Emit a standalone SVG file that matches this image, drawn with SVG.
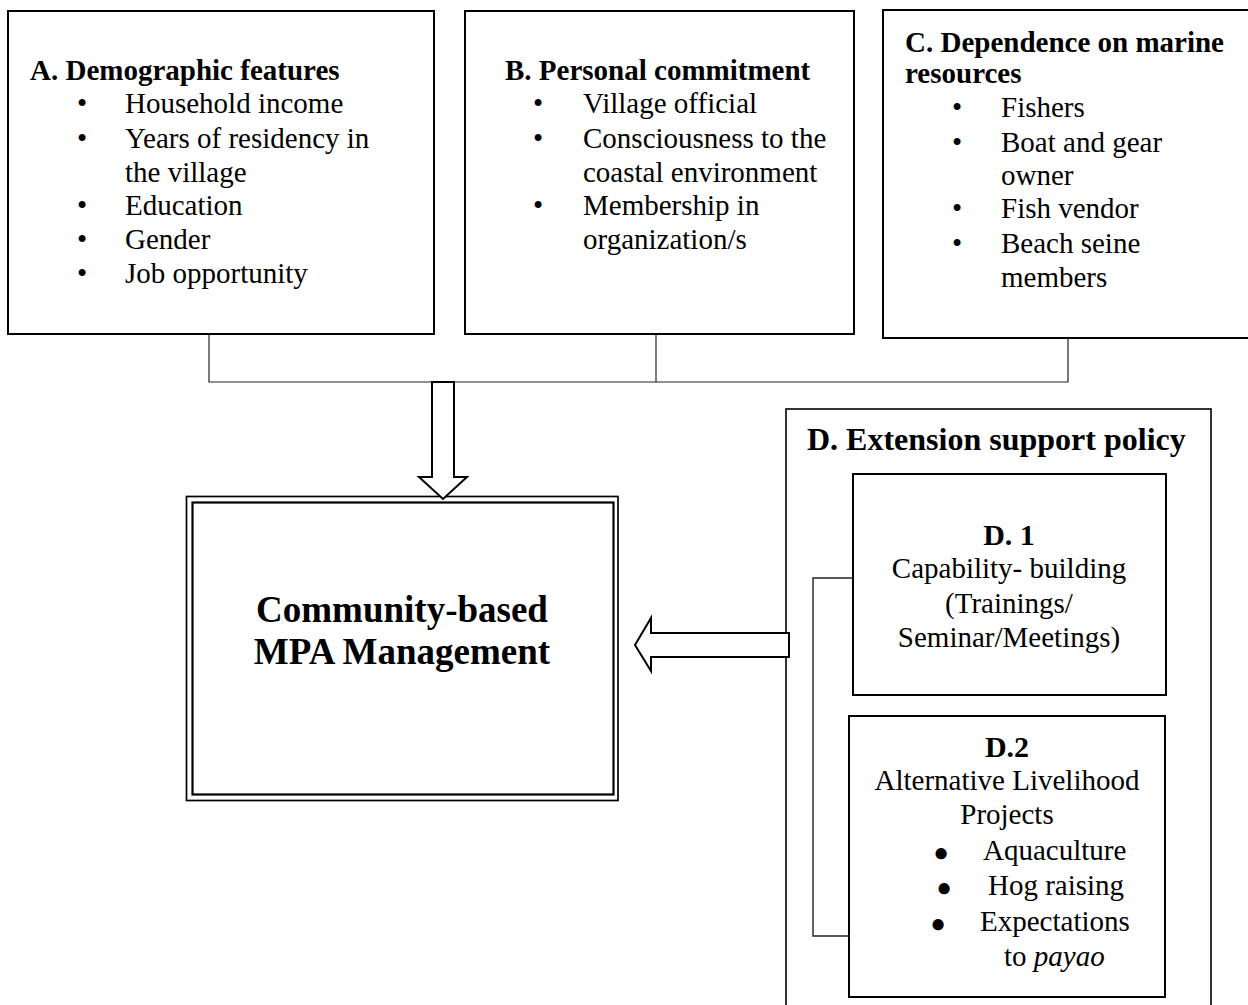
<svg xmlns="http://www.w3.org/2000/svg" width="1248" height="1005" viewBox="0 0 1248 1005">
  <style>
    text { font-family: "Liberation Serif", "Times New Roman", serif; fill: #000; }
    .t { font-size: 29px; font-weight: bold; }
    .i { font-size: 29px; }
    .b { font-size: 29px; text-anchor: middle; }
    .dot { font-size: 26px; text-anchor: middle; }
    .c { text-anchor: middle; }
    .box { fill: #fff; stroke: #000; stroke-width: 2; }
    .wire { fill: none; stroke: #222; stroke-width: 1.2; }
    .block { fill: #fff; stroke: #000; stroke-width: 2; stroke-linejoin: miter; }
  </style>

  <rect width="1248" height="1005" fill="#fff"/>

  <!-- A: demographic features -->
  <g id="node-a">
    <rect class="box" x="8" y="11" width="426" height="323"/>
    <text class="t" x="30" y="80">A. Demographic features</text>
    <text class="b" x="82" y="113">•</text>
    <text class="i" x="125" y="113">Household income</text>
    <text class="b" x="82" y="148">•</text>
    <text class="i" x="125" y="148">Years of residency in</text>
    <text class="i" x="125" y="182">the village</text>
    <text class="b" x="82" y="215">•</text>
    <text class="i" x="125" y="215">Education</text>
    <text class="b" x="82" y="249">•</text>
    <text class="i" x="125" y="249">Gender</text>
    <text class="b" x="82" y="283">•</text>
    <text class="i" x="125" y="283">Job opportunity</text>
  </g>

  <!-- B: personal commitment -->
  <g id="node-b">
    <rect class="box" x="465" y="11" width="389" height="323"/>
    <text class="t" x="505" y="80">B. Personal commitment</text>
    <text class="b" x="538" y="113">•</text>
    <text class="i" x="583" y="113">Village official</text>
    <text class="b" x="538" y="148">•</text>
    <text class="i" x="583" y="148">Consciousness to the</text>
    <text class="i" x="583" y="182">coastal environment</text>
    <text class="b" x="538" y="215">•</text>
    <text class="i" x="583" y="215">Membership in</text>
    <text class="i" x="583" y="249">organization/s</text>
  </g>

  <!-- C: dependence on marine resources -->
  <g id="node-c">
    <rect class="box" x="883" y="10" width="400" height="328"/>
    <text class="t" x="905" y="52">C. Dependence on marine</text>
    <text class="t" x="905" y="83">resources</text>
    <text class="b" x="957" y="117">•</text>
    <text class="i" x="1001" y="117">Fishers</text>
    <text class="b" x="957" y="152">•</text>
    <text class="i" x="1001" y="152">Boat and gear</text>
    <text class="i" x="1001" y="185">owner</text>
    <text class="b" x="957" y="218">•</text>
    <text class="i" x="1001" y="218">Fish vendor</text>
    <text class="b" x="957" y="253">•</text>
    <text class="i" x="1001" y="253">Beach seine</text>
    <text class="i" x="1001" y="287">members</text>
  </g>

  <!-- central outcome: double-ruled frame -->
  <g id="node-mpa">
    <rect x="186.5" y="496.5" width="431.5" height="304" fill="#fff" stroke="#000" stroke-width="1.7"/>
    <rect x="192.5" y="502.5" width="421" height="292" fill="none" stroke="#000" stroke-width="2.2"/>
    <text class="t c" x="402" y="622" style="font-size:37px">Community-based</text>
    <text class="t c" x="402" y="664" style="font-size:37px">MPA Management</text>
  </g>

  <!-- D: extension support policy (container) -->
  <g id="node-d">
    <rect x="786" y="409" width="425" height="640" fill="#fff" stroke="#000" stroke-width="1.6"/>
    <text class="t" x="807" y="450" style="font-size:32px">D. Extension support policy</text>
  </g>

  <g id="node-d1">
    <rect class="box" x="853" y="474" width="313" height="221"/>
    <text class="t c" x="1009" y="545" style="font-size:30px">D. 1</text>
    <text class="i c" x="1009" y="578">Capability- building</text>
    <text class="i c" x="1009" y="613">(Trainings/</text>
    <text class="i c" x="1009" y="647">Seminar/Meetings)</text>
  </g>

  <g id="node-d2">
    <rect class="box" x="849" y="716" width="316" height="281"/>
    <text class="t c" x="1007" y="757" style="font-size:30px">D.2</text>
    <text class="i c" x="1007" y="790">Alternative Livelihood</text>
    <text class="i c" x="1007" y="824">Projects</text>
    <text class="dot" x="941" y="861">●</text>
    <text class="i" x="983" y="860">Aquaculture</text>
    <text class="dot" x="944" y="896">●</text>
    <text class="i" x="988" y="895">Hog raising</text>
    <text class="dot" x="938" y="932">●</text>
    <text class="i" x="980" y="931">Expectations</text>
    <text class="i" x="1004" y="966">to <tspan font-style="italic">payao</tspan></text>
  </g>

  <!-- connectors -->
  <g id="connectors">
    <polyline class="wire" points="209,334 209,382 1068,382 1068,338"/>
    <line class="wire" x1="656" y1="334" x2="656" y2="382"/>
    <polygon class="block" points="432,382 454,382 454,477 467,477 443,499 419,477 432,477"/>
    <polygon class="block" points="789,633 789,657 651,657 651,671 635,645 651,618 651,633"/>
    <polyline class="wire" points="853,578 813,578 813,936 849,936" style="stroke-width:1.4"/>
  </g>
</svg>
